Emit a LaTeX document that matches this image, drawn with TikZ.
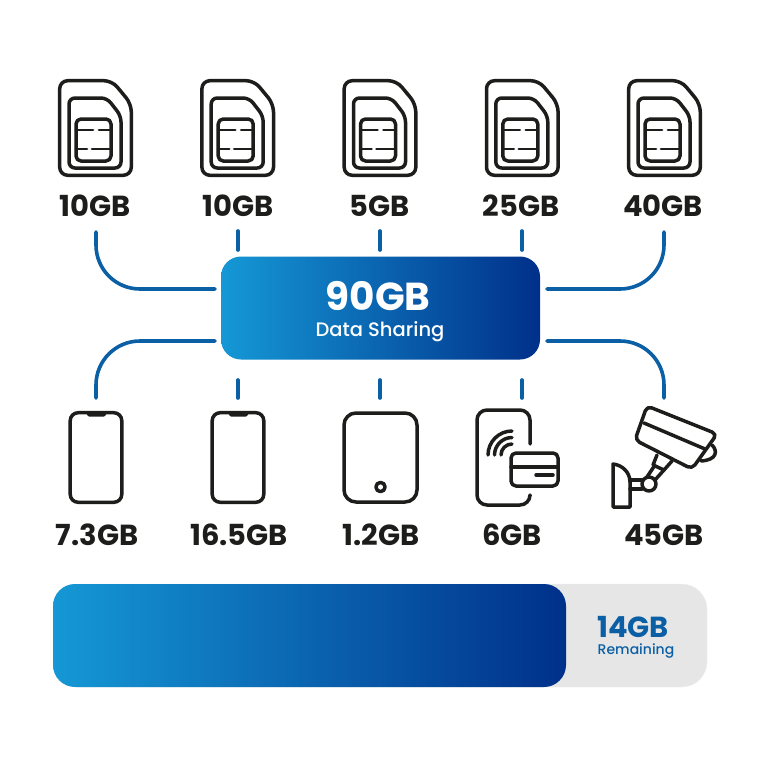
\documentclass[tikz,border=0pt]{standalone}
\usepackage{fontspec}
\setmainfont{Poppins}
\newfontfamily\medfont{Poppins Medium}
\definecolor{ink}{HTML}{1D1D1B}
\definecolor{linkblue}{HTML}{0B5FA5}
\definecolor{barlight}{HTML}{1598D5}
\definecolor{bardark}{HTML}{00308A}
\definecolor{bargrey}{HTML}{E6E6E6}
\tikzset{
  icon/.style={draw=ink, line width=3.5pt, line join=round, line cap=round},
  link/.style={draw=linkblue, line width=3.6pt, line cap=round, rounded corners=44pt},
  tick/.style={draw=linkblue, line width=3.6pt, line cap=round},
  gb/.style={text=ink, font=\fontsize{29}{29}\selectfont\bfseries, inner sep=0pt, anchor=base},
  pics/simcard/.style={code={
    \draw[icon, rounded corners=8pt] (1.7,1.7) -- (54,1.7) -- (73.3,25) -- (73.3,96.3) -- (1.7,96.3) -- cycle;
    \draw[icon, rounded corners=6pt] (11,19) -- (49,19) -- (63,37) -- (63,89) -- (11,89) -- cycle;
    \draw[icon, rounded corners=5pt] (18,40) rectangle (53,82);
    \draw[icon, line width=2.8pt] (18,51) -- (35,51) (41,51) -- (53,51);
    \draw[icon, line width=2.8pt] (18,70) -- (29,70) (34,70) -- (53,70);
  }},
  pics/handset/.style={code={
    \draw[icon, rounded corners=8pt] (1.7,1.7) rectangle (53.3,91.3);
    \fill[ink, rounded corners=1.5pt] (18,1.7) -- (38,1.7) -- (37,5.5) -- (19,5.5) -- cycle;
  }},
}
\begin{document}
\begin{tikzpicture}[x=1pt, y=-1pt]
\useasboundingbox[fill=white] (0,0) rectangle (768,768);
% sim row
\pic at (58,79) {simcard};
\pic at (200.2,79) {simcard};
\pic at (342.5,79) {simcard};
\pic at (484.8,79) {simcard};
\pic at (627,79) {simcard};
\node[gb] (lbl0) at (95,216) {10GB};
\node[gb] (lbl1) at (238,216) {10GB};
\node[gb] (lbl2) at (380,216) {5GB};
\node[gb] (lbl3) at (521,216) {25GB};
\node[gb] (lbl4) at (663,216) {40GB};
% hub
\node[minimum width=319pt, minimum height=103pt, rounded corners=20pt, left color=barlight, right color=bardark, inner sep=0pt] (hub) at (380.5,308) {};
\node[text=white, font=\fontsize{39}{39}\selectfont\bfseries, inner sep=0pt, anchor=base] (hubgb) at (378,310) {90GB};
\node[text=white, font=\fontsize{19.5}{19.5}\selectfont\medfont, inner sep=0pt, anchor=base] (hubtxt) at (380,336) {Data Sharing};
% connector ends
\coordinate (tl) at (96,232);
\coordinate (tr) at (664,232);
\coordinate (bl) at (96,398);
\coordinate (br) at (664,398);
\coordinate (htl) at (215,289);
\coordinate (htr) at (547,289);
\coordinate (hbl) at (215,341);
\coordinate (hbr) at (547,341);
\draw[link] (tl) |- (htl);
\draw[link] (tr) |- (htr);
\draw[link] (bl) |- (hbl);
\draw[link] (br) |- (hbr);
\foreach \x/\n in {238/0,380/1,522/2}{
  \coordinate (ta\n) at (\x,231);
  \coordinate (tb\n) at (\x,250);
  \coordinate (ba\n) at (\x,380);
  \coordinate (bb\n) at (\x,398);
  \draw[tick] (ta\n) -- (tb\n);
  \draw[tick] (ba\n) -- (bb\n);
}
% device row
\pic at (68.5,411) {handset};
\pic at (210.5,411) {handset};
\draw[icon, rounded corners=12pt] (344,413) rectangle (417,502);
\draw[icon] (380.5,487) circle (4.6pt);
% card phone
\draw[icon, rounded corners=10pt] (530,444) -- (530,410) -- (477,410) -- (477,505) -- (530,505) -- (530,496);
\draw[icon, rounded corners=5pt] (511,453) rectangle (558,486);
\draw[icon] (511,467) -- (558,467);
\draw[icon] (536,475) -- (553,475);
\foreach \r in {24,17.5,11}{
  \draw[icon] ({512-\r},455) .. controls ({512-\r},{455-.55*\r}) and ({512-.55*\r},{455-\r}) .. (512,{455-\r});
}
% camera
\draw[icon, rounded corners=5pt] (647,406) -- (717,434) -- (692,469) -- (635,440) -- cycle;
\draw[icon] (644,423) -- (705,449);
\draw[icon] (712,445) .. controls (718,451) and (717,460) .. (701,461);
\draw[icon] (657,455) -- (653,465) -- (664,470) -- (672,461);
\draw[icon] (655,465) -- (647,477);
\draw[icon] (664,470) -- (655,480);
\draw[icon] (649,484) circle (7pt);
\draw[icon] (630,480) -- (642,480);
\draw[icon] (630,489) -- (642,489);
\draw[icon] (613,464) .. controls (622,465) and (630,472) .. (630,482) -- (630,507) -- (613,507) -- cycle;
\node[gb] (lbl5) at (97,545) {7.3GB};
\node[gb] (lbl6) at (239,545) {16.5GB};
\node[gb] (lbl7) at (381,545) {1.2GB};
\node[gb] (lbl8) at (512,545) {6GB};
\node[gb] (lbl9) at (664,545) {45GB};
% remaining bar
\node[minimum width=654pt, minimum height=103pt, rounded corners=25pt, fill=bargrey, draw=bargrey!50, inner sep=0pt] (bartrack) at (380,635.5) {};
\node[minimum width=513pt, minimum height=103pt, rounded corners=22pt, left color=barlight, right color=bardark, inner sep=0pt] (barused) at (309.5,635.5) {};
\node[text=linkblue, font=\fontsize{29}{29}\selectfont\bfseries, inner sep=0pt, anchor=base] (barleft) at (633,637) {14GB};
\node[text=linkblue, font=\fontsize{14}{14}\selectfont\medfont, inner sep=0pt, anchor=base] (bartxt) at (636,654) {Remaining};
\end{tikzpicture}
\end{document}
